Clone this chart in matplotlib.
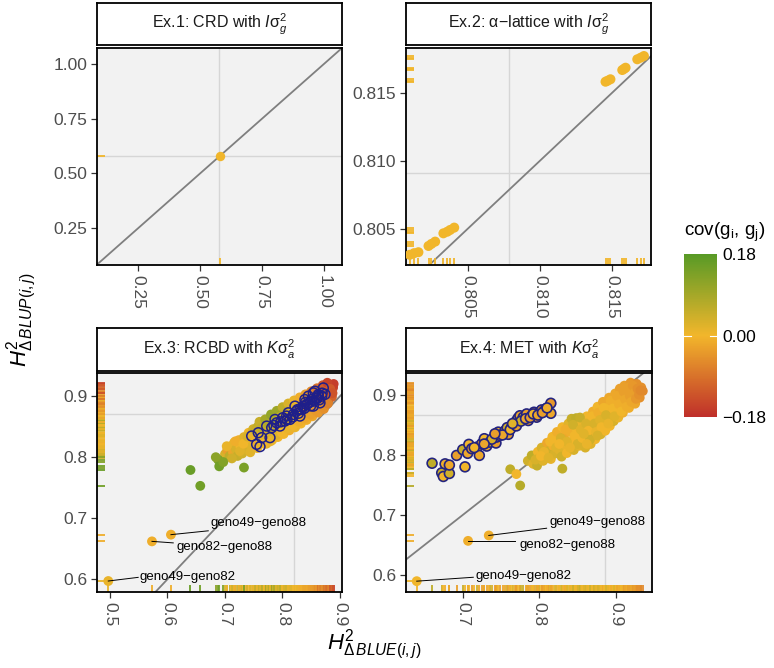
import matplotlib
matplotlib.use("Agg")
import matplotlib.pyplot as plt
import matplotlib.transforms as mtransforms
from matplotlib.collections import LineCollection
from matplotlib.colors import LinearSegmentedColormap, Normalize
from matplotlib.cm import ScalarMappable

plt.rcParams['font.family'] = ['Liberation Sans', 'DejaVu Sans']
plt.rcParams['mathtext.fontset'] = 'custom'
plt.rcParams['mathtext.rm'] = 'Liberation Sans'
plt.rcParams['mathtext.it'] = 'Liberation Sans:italic'
plt.rcParams['mathtext.bf'] = 'Liberation Sans:bold'

# ---------------- data ----------------
panel_titles = [r"Ex.1: CRD with $I\mathrm{\sigma}_g^2$",
                "Ex.2: " + r"$\mathrm{\alpha}$" + "\u2212lattice with " + r"$I\mathrm{\sigma}_g^2$",
                r"Ex.3: RCBD with $K\mathrm{\sigma}_a^2$",
                r"Ex.4: MET with $K\mathrm{\sigma}_a^2$"]

# Ex.1
ex1_x = [0.58]
ex1_y = [0.58]
ex1_cov = [0.0]
ex1_mean = [0.577, 0.580]
ex1_xticks = [0.25, 0.50, 0.75, 1.00]
ex1_yticks = [0.25, 0.50, 0.75, 1.00]

# Ex.2
ex2_x = [0.8010, 0.8013, 0.8016, 0.8023, 0.8025, 0.80276, 0.80333, 0.8036, 0.8038, 0.80408,
         0.81456, 0.8147, 0.8149, 0.81572, 0.81585, 0.81595, 0.81676, 0.8170, 0.81722]
ex2_y = [0.8031, 0.80322, 0.80329, 0.80375, 0.8039, 0.80407, 0.80468, 0.8048, 0.80493, 0.8051,
         0.81583, 0.8159, 0.81601, 0.81669, 0.81678, 0.81686, 0.81748, 0.8176, 0.81772]
ex2_cov = [0.0] * 19
ex2_mean = [0.8079, 0.8091]
ex2_xticks = [0.805, 0.810, 0.815]
ex2_yticks = [0.805, 0.810, 0.815]

# Ex.3 main cloud
ex3_x = [0.700, 0.704, 0.708, 0.710, 0.714, 0.716, 0.719, 0.722, 0.724, 0.727, 0.730, 0.733,
         0.735, 0.738, 0.741, 0.743, 0.746, 0.749, 0.751, 0.754, 0.757, 0.759, 0.762, 0.765,
         0.767, 0.770, 0.772, 0.775, 0.777, 0.780, 0.782, 0.785, 0.787, 0.790, 0.792, 0.795,
         0.797, 0.800, 0.802, 0.805, 0.807, 0.810, 0.812, 0.815, 0.817, 0.820, 0.822, 0.825,
         0.827, 0.830, 0.832, 0.835, 0.837, 0.840, 0.842, 0.845, 0.847, 0.850, 0.852, 0.855,
         0.857, 0.860, 0.862, 0.865, 0.867, 0.870, 0.872, 0.875, 0.877, 0.880, 0.882, 0.884,
         0.886, 0.888, 0.889,
         0.760, 0.770, 0.780, 0.790, 0.800, 0.810, 0.820, 0.830, 0.840, 0.850, 0.860, 0.870, 0.878,
         0.703, 0.712, 0.718, 0.726, 0.732, 0.739, 0.744, 0.748, 0.753, 0.756, 0.761, 0.764,
         0.768, 0.773, 0.776, 0.779, 0.783, 0.786, 0.789, 0.793, 0.796, 0.799, 0.803, 0.806,
         0.809, 0.813, 0.816, 0.819, 0.823, 0.826, 0.829, 0.833, 0.836, 0.839, 0.843, 0.846,
         0.849, 0.853, 0.856, 0.859, 0.863, 0.866, 0.869, 0.873, 0.876, 0.879, 0.883, 0.887,
         0.640, 0.657, 0.688, 0.690, 0.697, 0.733, 0.684]
ex3_y = [0.805, 0.812, 0.802, 0.818, 0.808, 0.824, 0.813, 0.802, 0.828, 0.817, 0.806, 0.833,
         0.822, 0.812, 0.840, 0.829, 0.817, 0.846, 0.835, 0.823, 0.850, 0.840, 0.828, 0.855,
         0.845, 0.833, 0.822, 0.860, 0.849, 0.838, 0.828, 0.865, 0.855, 0.843, 0.833, 0.870,
         0.860, 0.848, 0.838, 0.876, 0.865, 0.854, 0.844, 0.880, 0.870, 0.859, 0.849, 0.886,
         0.875, 0.865, 0.855, 0.891, 0.880, 0.870, 0.861, 0.896, 0.886, 0.876, 0.867, 0.901,
         0.891, 0.882, 0.873, 0.906, 0.896, 0.887, 0.879, 0.911, 0.901, 0.893, 0.917, 0.907,
         0.899, 0.914, 0.920,
         0.858, 0.862, 0.870, 0.876, 0.882, 0.888, 0.893, 0.898, 0.903, 0.908, 0.913, 0.918, 0.922,
         0.818, 0.798, 0.826, 0.810, 0.822, 0.834, 0.808, 0.834, 0.844, 0.815, 0.834, 0.848,
         0.822, 0.840, 0.854, 0.826, 0.846, 0.860, 0.836, 0.852, 0.866, 0.840, 0.858, 0.870,
         0.847, 0.862, 0.875, 0.852, 0.868, 0.880, 0.858, 0.873, 0.885, 0.864, 0.878, 0.890,
         0.870, 0.884, 0.896, 0.876, 0.889, 0.901, 0.882, 0.895, 0.906, 0.888, 0.912, 0.905,
         0.779, 0.753, 0.796, 0.785, 0.792, 0.783, 0.800]
ex3_cov = [0.03, -0.03, 0.06, 0.00, -0.02, 0.01, 0.03, 0.05, -0.01, 0.00, 0.04, 0.02,
           -0.01, 0.03, 0.00, 0.01, 0.02, 0.04, 0.00, -0.01, 0.06, 0.02, 0.00, 0.07,
           0.03, 0.00, 0.02, 0.08, 0.04, 0.01, 0.00, 0.09, 0.05, 0.02, 0.00, 0.07,
           0.04, 0.01, 0.00, 0.04, 0.02, 0.00, -0.01, 0.02, 0.00, -0.01, 0.01, 0.00,
           -0.01, -0.02, 0.00, -0.02, -0.03, -0.02, -0.01, -0.04, -0.03, -0.04, -0.02, -0.06,
           -0.05, -0.05, -0.04, -0.08, -0.07, -0.06, -0.05, -0.10, -0.09, -0.08, -0.13, -0.12,
           -0.11, -0.15, -0.16,
           0.05, 0.09, 0.11, 0.10, 0.06, 0.03, 0.01, -0.01, -0.03, -0.06, -0.09, -0.12, -0.15,
           0.01, 0.04, -0.01, 0.02, 0.00, 0.03, 0.02, 0.01, 0.05, 0.01, 0.02, 0.06,
           0.00, 0.03, 0.07, 0.01, 0.05, 0.08, 0.02, 0.04, 0.06, 0.00, 0.03, 0.04,
           0.01, 0.02, 0.02, 0.00, 0.00, 0.01, -0.01, -0.01, -0.02, -0.02, -0.02, -0.03,
           -0.03, -0.04, -0.05, -0.04, -0.06, -0.07, -0.05, -0.08, -0.09, -0.07, -0.12, -0.13,
           0.16, 0.15, 0.14, 0.15, 0.13, 0.14, 0.12]
# Ex.3 highlighted pairs (open circles)
ex3_hl_x = [0.7464, 0.7579, 0.7638, 0.7550, 0.7609, 0.7783, 0.7812, 0.7725, 0.7899, 0.7957,
            0.8043, 0.8072, 0.8130, 0.8188, 0.8247, 0.8304, 0.8304, 0.8362, 0.8420, 0.8478,
            0.8508, 0.8536, 0.8595, 0.8623, 0.8652, 0.8682, 0.8710, 0.8565, 0.8450, 0.8390,
            0.8217, 0.8101, 0.8003, 0.7870, 0.8536,
            0.828, 0.833, 0.838, 0.844, 0.849, 0.855, 0.860, 0.864, 0.869, 0.874, 0.862, 0.840,
            0.826, 0.818, 0.808, 0.797, 0.785]
ex3_hl_y = [0.8347, 0.8401, 0.8320, 0.8210, 0.8173, 0.8320, 0.8483, 0.8510, 0.8564, 0.8510,
            0.8592, 0.8674, 0.8619, 0.8700, 0.8755, 0.8793, 0.8674, 0.8837, 0.8863, 0.8902,
            0.8945, 0.8837, 0.8972, 0.9026, 0.8890, 0.9000, 0.9135, 0.9082, 0.9000, 0.8945,
            0.8837, 0.8728, 0.8646, 0.8619, 0.9054,
            0.872, 0.878, 0.880, 0.888, 0.884, 0.892, 0.896, 0.894, 0.905, 0.903, 0.900, 0.890,
            0.878, 0.866, 0.862, 0.858, 0.852]
# Ex.3 labelled pairs
ex3_lab_x = [0.497, 0.573, 0.606]
ex3_lab_y = [0.597, 0.662, 0.673]
ex3_lab_cov = [0.01, -0.01, -0.01]
ex3_lab_text = ["geno49\u2212geno82", "geno82\u2212geno88", "geno49\u2212geno88"]
ex3_mean = [0.8195, 0.8706]
ex3_xticks = [0.5, 0.6, 0.7, 0.8, 0.9]
ex3_yticks = [0.6, 0.7, 0.8, 0.9]

# Ex.4 main cloud
ex4_x = [0.762, 0.770, 0.775, 0.785, 0.790, 0.792, 0.797, 0.798, 0.800,
         0.803, 0.805, 0.808, 0.810, 0.812, 0.815, 0.817, 0.818, 0.820,
         0.823, 0.825, 0.826, 0.829, 0.830, 0.830, 0.832, 0.835, 0.836, 0.838, 0.840, 0.842, 0.842, 0.845,
         0.848, 0.848, 0.850, 0.852, 0.855, 0.857, 0.858, 0.860, 0.862, 0.863, 0.865, 0.867, 0.868,
         0.870, 0.871, 0.873, 0.875, 0.876, 0.878, 0.880, 0.882, 0.883, 0.885, 0.886, 0.888, 0.889,
         0.891, 0.892, 0.894, 0.895, 0.897, 0.899, 0.900, 0.902, 0.903, 0.905, 0.906, 0.908, 0.909,
         0.911, 0.913, 0.915, 0.917, 0.919, 0.921, 0.923, 0.925, 0.927, 0.929, 0.931, 0.933, 0.935,
         0.806, 0.814, 0.822, 0.828, 0.834, 0.836, 0.844, 0.846, 0.850, 0.853, 0.854, 0.856,
         0.861, 0.864, 0.866, 0.869, 0.872, 0.874, 0.877, 0.879, 0.881, 0.884, 0.887, 0.890,
         0.893, 0.896, 0.898, 0.901, 0.904, 0.907, 0.910, 0.912, 0.914, 0.916, 0.918, 0.920,
         0.922, 0.924, 0.926, 0.928, 0.930, 0.932, 0.795, 0.802, 0.812, 0.826, 0.840, 0.858,
         0.862, 0.876]
ex4_y = [0.776, 0.768, 0.749, 0.790, 0.799, 0.785, 0.782, 0.805, 0.795,
         0.812, 0.790, 0.800, 0.820, 0.806, 0.793, 0.830, 0.815, 0.802,
         0.838, 0.822, 0.808, 0.797, 0.777, 0.846, 0.830, 0.815, 0.803, 0.852, 0.838, 0.860, 0.822, 0.808,
         0.861, 0.845, 0.830, 0.815, 0.855, 0.838, 0.822, 0.812, 0.864, 0.848, 0.830, 0.818, 0.858,
         0.872, 0.842, 0.826, 0.862, 0.880, 0.848, 0.834, 0.870, 0.888, 0.855, 0.840, 0.878, 0.864,
         0.895, 0.848, 0.884, 0.870, 0.856, 0.902, 0.890, 0.876, 0.862, 0.910, 0.896, 0.882, 0.870,
         0.915, 0.902, 0.890, 0.878, 0.920, 0.908, 0.895, 0.885, 0.918, 0.905, 0.895, 0.912, 0.906,
         0.805, 0.822, 0.812, 0.828, 0.842, 0.822, 0.850, 0.832, 0.818, 0.862, 0.842, 0.828,
         0.852, 0.840, 0.825, 0.864, 0.852, 0.838, 0.870, 0.858, 0.846, 0.878, 0.866, 0.852,
         0.890, 0.877, 0.864, 0.898, 0.884, 0.872, 0.905, 0.892, 0.880, 0.912, 0.898, 0.888,
         0.915, 0.903, 0.893, 0.910, 0.900, 0.907, 0.792, 0.798, 0.795, 0.818, 0.812, 0.835,
         0.818, 0.832]
ex4_cov = [0.06, 0.00, 0.07, 0.04, 0.06, 0.02, 0.05, 0.00, -0.01,
           0.03, 0.02, 0.00, -0.02, 0.04, 0.01, 0.00, -0.01, 0.03,
           -0.01, 0.00, 0.02, 0.04, 0.06, 0.00, -0.02, 0.01, 0.00, 0.02, -0.01, 0.05, 0.00, 0.03,
           0.06, 0.00, -0.02, 0.02, 0.01, 0.04, 0.00, 0.03, 0.00, -0.01, 0.05, 0.02, 0.00,
           -0.01, 0.04, 0.00, 0.02, 0.00, -0.01, 0.03, 0.00, -0.02, 0.01, 0.00, -0.01, 0.02,
           -0.02, 0.00, 0.00, -0.01, 0.03, -0.02, 0.00, -0.01, 0.01, -0.03, -0.02, 0.00, -0.01,
           -0.03, -0.02, -0.03, -0.01, -0.04, -0.03, -0.04, -0.02, -0.05, -0.04, -0.05, -0.05, -0.06,
           0.01, 0.00, 0.02, 0.03, -0.01, 0.02, 0.04, 0.00, 0.03, 0.05, 0.02, 0.00,
           0.03, 0.00, 0.04, 0.00, 0.03, 0.01, -0.01, 0.02, 0.00, 0.00, 0.03, 0.01,
           -0.01, 0.00, 0.02, -0.02, -0.01, 0.00, -0.03, -0.02, -0.01, -0.03, -0.03, -0.02,
           -0.04, -0.03, -0.04, -0.05, -0.05, -0.06, 0.03, 0.00, 0.02, 0.00, 0.01, 0.02,
           0.01, 0.03]
# Ex.4 highlighted pairs (filled, outlined)
ex4_hl_x = [0.660, 0.6726, 0.6747, 0.677, 0.6826, 0.6826, 0.703, 0.692, 0.700, 0.7065, 0.708,
            0.7117, 0.719, 0.7217, 0.7248, 0.7282, 0.7313, 0.7356, 0.7434, 0.7443, 0.7464, 0.7486,
            0.755, 0.758, 0.7595, 0.7639, 0.768, 0.7704, 0.7725, 0.7747, 0.779, 0.7834, 0.7855,
            0.790, 0.793, 0.7965, 0.800, 0.803, 0.806, 0.8086, 0.811, 0.815, 0.815,
            0.752, 0.762, 0.770, 0.776, 0.782, 0.788, 0.792, 0.798, 0.804, 0.810, 0.738, 0.728,
            0.715, 0.742, 0.765]
ex4_hl_y = [0.786, 0.770, 0.764, 0.785, 0.769, 0.783, 0.780, 0.799, 0.8086, 0.8025, 0.8174,
            0.8102, 0.813, 0.799, 0.8185, 0.8268, 0.8145, 0.821, 0.8196, 0.8295, 0.8378, 0.8322,
            0.8397, 0.8452, 0.834, 0.8463, 0.8515, 0.857, 0.8614, 0.865, 0.8625, 0.868, 0.857,
            0.865, 0.8708, 0.8625, 0.8708, 0.8747, 0.8724, 0.8763, 0.8735, 0.8857, 0.869,
            0.833, 0.842, 0.848, 0.856, 0.860, 0.862, 0.868, 0.866, 0.870, 0.878, 0.826, 0.818,
            0.812, 0.835, 0.852]
ex4_hl_cov = [0.06, 0.05, 0.00, -0.01, 0.04, -0.02, 0.00, -0.03, 0.05, -0.02, 0.00,
              -0.03, 0.04, -0.02, -0.03, 0.00, -0.02, 0.05, -0.03, -0.02, 0.00, -0.03,
              -0.02, 0.04, -0.03, 0.00, -0.02, -0.03, 0.00, -0.02, 0.05, -0.03, -0.02,
              0.00, -0.03, -0.02, 0.03, -0.03, -0.02, 0.00, -0.03, -0.04, -0.02,
              -0.02, 0.00, -0.03, 0.04, -0.02, -0.03, 0.00, -0.02, -0.03, -0.01, 0.03, -0.02,
              0.00, -0.03, 0.02]
ex4_lab_x = [0.640, 0.707, 0.734]
ex4_lab_y = [0.590, 0.657, 0.666]
ex4_lab_cov = [0.0, -0.01, -0.01]
ex4_lab_text = ["geno49\u2212geno82", "geno82\u2212geno88", "geno49\u2212geno88"]
ex4_mean = [0.8855, 0.8664]
ex4_xticks = [0.7, 0.8, 0.9]
ex4_yticks = [0.6, 0.7, 0.8, 0.9]

cbar_ticks = [-0.18, 0.00, 0.18]

# ---------------- styling / layout ----------------
W, H = 774, 668
fig = plt.figure(figsize=(W / 100, H / 100), dpi=100)

cmap = LinearSegmentedColormap.from_list(
    "cov", [(0.0, "#BF2F2A"), (0.5, "#F2B62B"), (1.0, "#589A26")])
norm = Normalize(-0.18, 0.18)

BG = "#F2F2F2"
TICKC = "#4D4D4D"


def px_rect(x0, y0, x1, y1):
    return [x0 / W, 1 - y1 / H, (x1 - x0) / W, (y1 - y0) / H]


panel_px = [(97, 48, 342, 265), (406, 48, 651, 265),
            (97, 373, 342, 592), (406, 373, 652, 592)]
strip_px = [(97, 3, 342, 45), (406, 3, 651, 45),
            (97, 328, 342, 371), (406, 328, 652, 371)]
limits = [((0.083, 1.073), (0.081, 1.073)),
          ((0.80074, 0.81771), (0.80235, 0.81831)),
          ((0.4774, 0.9035), (0.579, 0.938)),
          ((0.626, 0.947), (0.572, 0.936))]
xticks_all = [ex1_xticks, ex2_xticks, ex3_xticks, ex4_xticks]
yticks_all = [ex1_yticks, ex2_yticks, ex3_yticks, ex4_yticks]
fmts = ["{:.2f}", "{:.3f}", "{:.1f}", "{:.1f}"]
means = [ex1_mean, ex2_mean, ex3_mean, ex4_mean]


def rug(ax, xs, ys, cs, length=0.033, lw=1.3):
    cols = [cmap(norm(c)) for c in cs]
    tb = mtransforms.blended_transform_factory(ax.transData, ax.transAxes)
    lc = LineCollection([[(x, 0), (x, length)] for x in xs], colors=cols,
                        linewidths=lw, transform=tb, zorder=2)
    ax.add_collection(lc)
    tl = mtransforms.blended_transform_factory(ax.transAxes, ax.transData)
    lc2 = LineCollection([[(0, y), (length, y)] for y in ys], colors=cols,
                         linewidths=lw, transform=tl, zorder=2)
    ax.add_collection(lc2)


axes = []
for i in range(4):
    ax = fig.add_axes(px_rect(*panel_px[i]))
    ax.set_facecolor(BG)
    ax.set_xlim(*limits[i][0])
    ax.set_ylim(*limits[i][1])
    for s in ax.spines.values():
        s.set_linewidth(1.3)
        s.set_color("black")
    ax.set_xticks(xticks_all[i])
    ax.set_yticks(yticks_all[i])
    ax.set_xticklabels([fmts[i].format(v) for v in xticks_all[i]], rotation=-90)
    ax.set_yticklabels([fmts[i].format(v) for v in yticks_all[i]])
    ax.tick_params(direction="out", length=4, width=0.9, color="#333333",
                   labelcolor=TICKC, labelsize=12.5, pad=3)
    ax.axvline(means[i][0], color="#D6D6D6", lw=1.0, zorder=0.5)
    ax.axhline(means[i][1], color="#D6D6D6", lw=1.0, zorder=0.5)
    ax.axline((0, 0), (1, 1), color="#7F7F7F", lw=1.3, zorder=1.5)
    sax = fig.add_axes(px_rect(*strip_px[i]))
    sax.set_xticks([])
    sax.set_yticks([])
    sax.set_facecolor("white")
    for s in sax.spines.values():
        s.set_linewidth(1.3)
        s.set_color("black")
    sax.text(0.5, 0.5, panel_titles[i], ha="center", va="center",
             fontsize=11.5, color="#1A1A1A", transform=sax.transAxes)
    axes.append(ax)

S = 50
# Ex.1
ax = axes[0]
rug(ax, ex1_x, ex1_y, ex1_cov)
ax.scatter(ex1_x, ex1_y, c=ex1_cov, cmap=cmap, norm=norm, s=46, zorder=3, linewidths=0)

# Ex.2
ax = axes[1]
rug(ax, ex2_x, ex2_y, ex2_cov)
ax.scatter(ex2_x, ex2_y, c=ex2_cov, cmap=cmap, norm=norm, s=52, zorder=3, linewidths=0)

# Ex.3
ax = axes[2]
rug(ax, ex3_x + ex3_lab_x, ex3_y + ex3_lab_y, ex3_cov + ex3_lab_cov)
ax.scatter(ex3_x, ex3_y, c=ex3_cov, cmap=cmap, norm=norm, s=S, zorder=3, linewidths=0)
ax.scatter(ex3_lab_x, ex3_lab_y, c=ex3_lab_cov, cmap=cmap, norm=norm, s=S, zorder=3, linewidths=0)
ax.scatter(ex3_hl_x, ex3_hl_y, facecolors="none", edgecolors="#1F1F8A", s=S, linewidths=1.1, zorder=4)

# Ex.4
ax = axes[3]
rug(ax, ex4_x + ex4_hl_x + ex4_lab_x, ex4_y + ex4_hl_y + ex4_lab_y,
    ex4_cov + ex4_hl_cov + ex4_lab_cov)
ax.scatter(ex4_x, ex4_y, c=ex4_cov, cmap=cmap, norm=norm, s=S, zorder=3, linewidths=0)
ax.scatter(ex4_hl_x, ex4_hl_y, c=ex4_hl_cov, cmap=cmap, norm=norm, s=S,
           edgecolors="#24247F", linewidths=1.2, zorder=4)
ax.scatter(ex4_lab_x, ex4_lab_y, c=ex4_lab_cov, cmap=cmap, norm=norm, s=S, zorder=3, linewidths=0)

# repel-style labels (label anchor positions, segment ends)
lab_layout = {
    2: [((0.552, 0.6036), (0.549, 0.603)),
        ((0.6148, 0.6525), (0.610, 0.6595)),
        ((0.674, 0.6917), (0.6709, 0.6793))],
    3: [((0.7173, 0.598), (0.7138, 0.5965)),
        ((0.7738, 0.6504), (0.7682, 0.657)),
        ((0.8129, 0.6889), (0.8095, 0.678))],
}
for pi, (lx, ly, lt) in {2: (ex3_lab_x, ex3_lab_y, ex3_lab_text),
                         3: (ex4_lab_x, ex4_lab_y, ex4_lab_text)}.items():
    ax = axes[pi]
    for k in range(3):
        (tx, ty), (ex_, ey) = lab_layout[pi][k]
        ax.plot([lx[k], ex_], [ly[k], ey], color="black", lw=0.7, zorder=5)
        ax.text(tx, ty, lt[k], ha="left", va="center", fontsize=9.5, color="black", zorder=6)

# axis labels
fig.text(22 / W, 1 - 320 / H, r"$H^2_{\Delta\,BLUP(i,j)}$", rotation=90,
         ha="center", va="center", fontsize=16)
fig.text(374 / W, 1 - 645 / H, r"$H^2_{\Delta\,BLUE(i,j)}$",
         ha="center", va="center", fontsize=16)

# colour bar
cax = fig.add_axes(px_rect(684, 254, 717, 417))
cb = fig.colorbar(ScalarMappable(norm=norm, cmap=cmap), cax=cax)
cb.outline.set_visible(False)
cb.set_ticks(cbar_ticks)
cb.set_ticklabels(["\u22120.18", "0.00", "0.18"])
cax.tick_params(length=0, labelsize=12.5, labelcolor="black", pad=4)
tr = mtransforms.blended_transform_factory(cax.transAxes, cax.transData)
cax.plot([0, 0.2], [0.0, 0.0], color="white", lw=0.8, transform=tr, scalex=False, scaley=False)
cax.plot([0.8, 1.0], [0.0, 0.0], color="white", lw=0.8, transform=tr, scalex=False, scaley=False)
cax.set_ylim(-0.18, 0.18)
fig.text(684 / W, 1 - 232 / H, r"$\mathrm{cov}(\mathrm{g_i},\,\mathrm{g_j})$",
         ha="left", va="center", fontsize=13.5)

fig.savefig("out.png", dpi=100)
